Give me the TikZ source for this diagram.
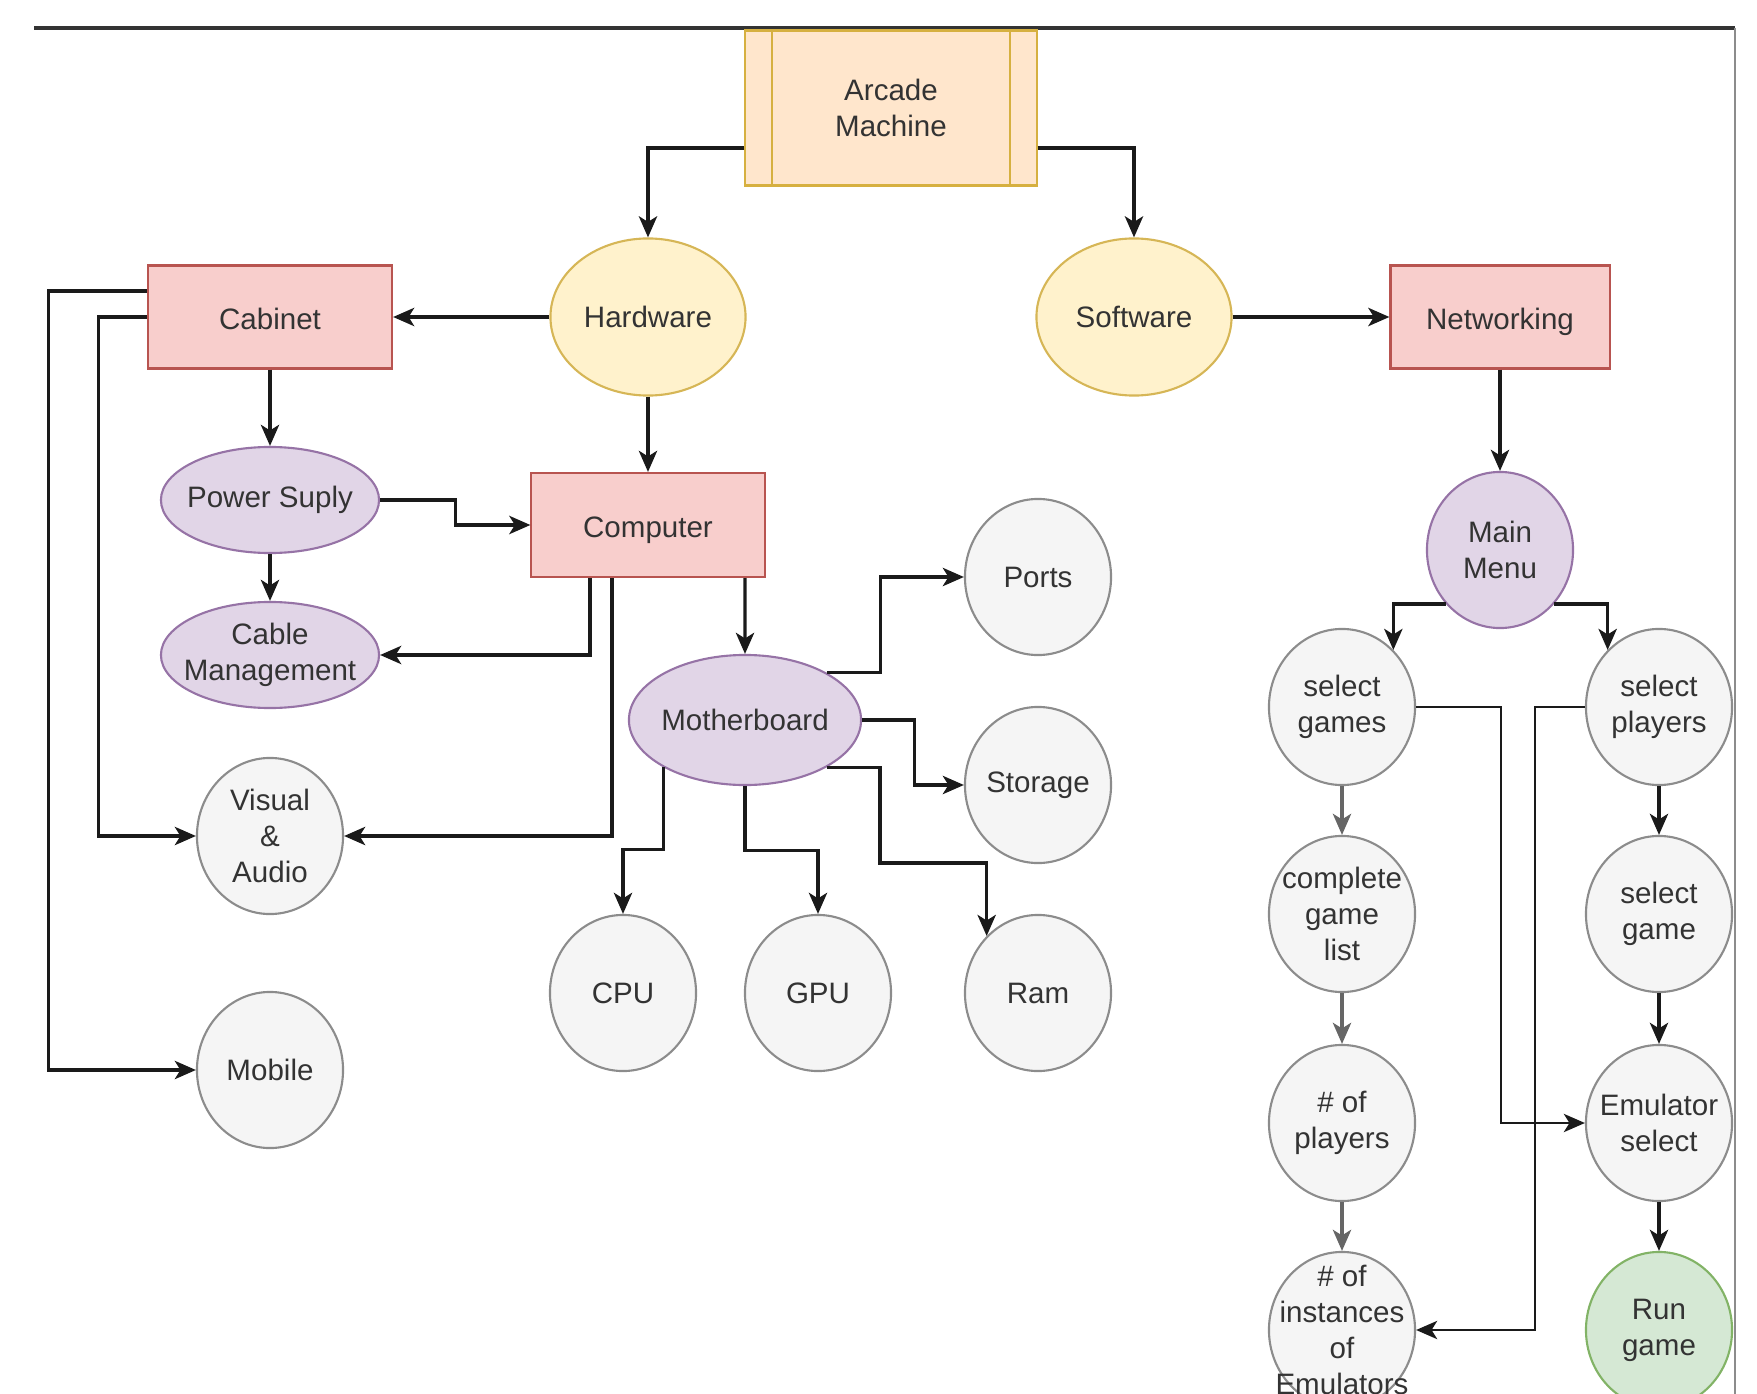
\documentclass[tikz,border=0pt]{standalone}
\usepackage{fontspec}
\setmainfont{Liberation Sans}
\usetikzlibrary{shapes.geometric,arrows.meta}
\definecolor{textgray}{HTML}{333333}
\definecolor{orangefill}{HTML}{FFE6CC}
\definecolor{orangeline}{HTML}{D6B040}
\definecolor{yellowfill}{HTML}{FFF2CC}
\definecolor{yellowline}{HTML}{D6B656}
\definecolor{redfill}{HTML}{F8CECC}
\definecolor{redline}{HTML}{B85450}
\definecolor{purplefill}{HTML}{E1D5E7}
\definecolor{purpleline}{HTML}{9673A6}
\definecolor{grayfill}{HTML}{F5F5F5}
\definecolor{grayline}{HTML}{8C8C8C}
\definecolor{greenfill}{HTML}{D5E8D4}
\definecolor{greenline}{HTML}{82B366}
\definecolor{arrowblack}{HTML}{1A1A1A}
\definecolor{arrowgray}{HTML}{666666}
\begin{document}
\begin{tikzpicture}
		[x=0.01cm,y=-0.01cm,
		txt/.style={align=center,text=textgray,font=\fontsize{8.4}{10.2}\selectfont},
		redbox/.style={rectangle,draw=redline,fill=redfill,line width=0.6pt,inner sep=0pt,minimum height=1.03cm,text height=7.8pt,text depth=0.6pt,txt},
		bub/.style={ellipse,line width=0.6pt,inner sep=0pt,minimum width=1.46cm,minimum height=1.56cm,label={[txt]center:#1}},
		graybub/.style={bub={#1},draw=grayline,fill=grayfill},
		purplebub/.style={bub={#1},draw=purpleline,fill=purplefill},
		yellowbub/.style={bub={#1},draw=yellowline,fill=yellowfill,minimum width=1.95cm,minimum height=1.57cm},
		greenbub/.style={bub={#1},draw=greenline,fill=greenfill},
		arr/.style={-{Stealth[length=6pt,width=5.2pt,inset=1.6pt]},line width=0.9pt,draw=arrowblack},
		garr/.style={arr,draw=arrowgray},
		thinarr/.style={arr,line width=0.6pt}]
		\useasboundingbox (0,0) rectangle (1757,1394);
		\clip (0,0) rectangle (1757,1394);
		% page frame
		\draw[line width=1.2pt,draw=textgray] (34,28) -- (1735,28);
		\draw[line width=0.6pt,draw=grayline] (1735,28) -- (1735,1394);
		% top
		\node[rectangle,draw=orangeline,fill=orangefill,line width=0.6pt,minimum width=2.91cm,minimum height=1.55cm,txt,name=arcade] at (891,108) {Arcade\\Machine};
		\draw[draw=orangeline,line width=0.6pt] ([xshift=0.28cm]arcade.north west) -- ([xshift=0.28cm]arcade.south west);
		\draw[draw=orangeline,line width=0.6pt] ([xshift=-0.28cm]arcade.north east) -- ([xshift=-0.28cm]arcade.south east);
		\node[yellowbub={Hardware},name=hardware] at (648,317) {};
		\node[yellowbub={Software},name=software] at (1134,317) {};
		% hardware side
		\node[redbox,minimum width=2.44cm,name=cabinet] at (270,317) {Cabinet};
		\node[redbox,minimum width=2.33cm,minimum height=1.04cm,name=computer] at (648,525) {Computer};
		\node[purplebub={Power Suply},minimum width=2.18cm,minimum height=1.06cm,name=power] at (270,500) {};
		\node[purplebub={Cable\\Management},minimum width=2.18cm,minimum height=1.06cm,name=cable] at (270,655) {};
		\node[graybub={Visual\\\&\\Audio},name=visual] at (270,836) {};
		\node[graybub={Mobile},name=mobile] at (270,1070) {};
		\node[purplebub={Motherboard},minimum width=2.32cm,minimum height=1.30cm,name=mb] at (745,720) {};
		\node[graybub={Ports},name=ports] at (1038,577) {};
		\node[graybub={Storage},name=storage] at (1038,785) {};
		\node[graybub={CPU},name=cpu] at (623,993) {};
		\node[graybub={GPU},name=gpu] at (818,993) {};
		\node[graybub={Ram},name=ram] at (1038,993) {};
		% software side
		\node[redbox,minimum width=2.19cm,name=networking] at (1500,317) {Networking};
		\node[purplebub={Main\\Menu},name=menu] at (1500,550) {};
		\node[graybub={select\\games},name=sgames] at (1342,707) {};
		\node[graybub={complete\\game\\list},name=list] at (1342,914) {};
		\node[graybub={\# of\\players},name=nplayers] at (1342,1123) {};
		\node[graybub={\# of\\instances\\of\\Emulators},name=instances] at (1342,1330) {};
		\node[graybub={select\\players},name=splayers] at (1659,707) {};
		\node[graybub={select\\game},name=sgame] at (1659,914) {};
		\node[graybub={Emulator\\select},name=emulator] at (1659,1123) {};
		\node[greenbub={Run\\game},name=run] at (1659,1330) {};
		% connectors
		\draw[arr] ([yshift=-0.4cm]arcade.west) -| (hardware.north);
		\draw[arr] ([yshift=-0.4cm]arcade.east) -| (software.north);
		\draw[arr] (hardware) -- (cabinet);
		\draw[arr] (hardware) -- (computer);
		\draw[arr] (software) -- (networking);
		\draw[arr] (cabinet) -- (power);
		\draw[arr] (power) -- (cable);
		\draw[arr] (power.east) -- ++(75,0) |- (computer.west);
		\draw[arr] ([xshift=-0.58cm]computer.south) |- (cable.east);
		\draw[arr] ([xshift=-0.36cm]computer.south) |- (visual.east);
		\draw[arr] ([xshift=0.97cm]computer.south) -- (mb.north);
		\draw[arr] (cabinet.west) -- ++(-48,0) |- (visual.west);
		\draw[arr] ([yshift=0.26cm]cabinet.west) -- ++(-98,0) |- (mobile.west);
		\draw[arr] (mb.30) -- ++(54,0) |- (ports.west);
		\draw[arr] (mb.east) -- ++(52,0) |- (storage.west);
		\draw[arr] (mb.-30) -| (880,863) -| (ram.132);
		\draw[arr] (mb.-150) -- ++(0,82) -| (cpu.north);
		\draw[arr] (mb.south) -- ++(0,64) -| (gpu.north);
		\draw[arr] (networking) -- (menu);
		\draw[arr] (menu.225) -| (sgames.48);
		\draw[arr] (menu.-45) -| (splayers.132);
		\draw[garr] (sgames) -- (list);
		\draw[garr] (list) -- (nplayers);
		\draw[garr] (nplayers) -- (instances);
		\draw[arr] (splayers) -- (sgame);
		\draw[arr] (sgame) -- (emulator);
		\draw[arr] (emulator) -- (run);
		\draw[thinarr] (sgames.east) -- ++(85,0) |- (emulator.west);
		\draw[thinarr] (splayers.west) -- ++(-50,0) |- (instances.east);
	\end{tikzpicture}
\end{document}
